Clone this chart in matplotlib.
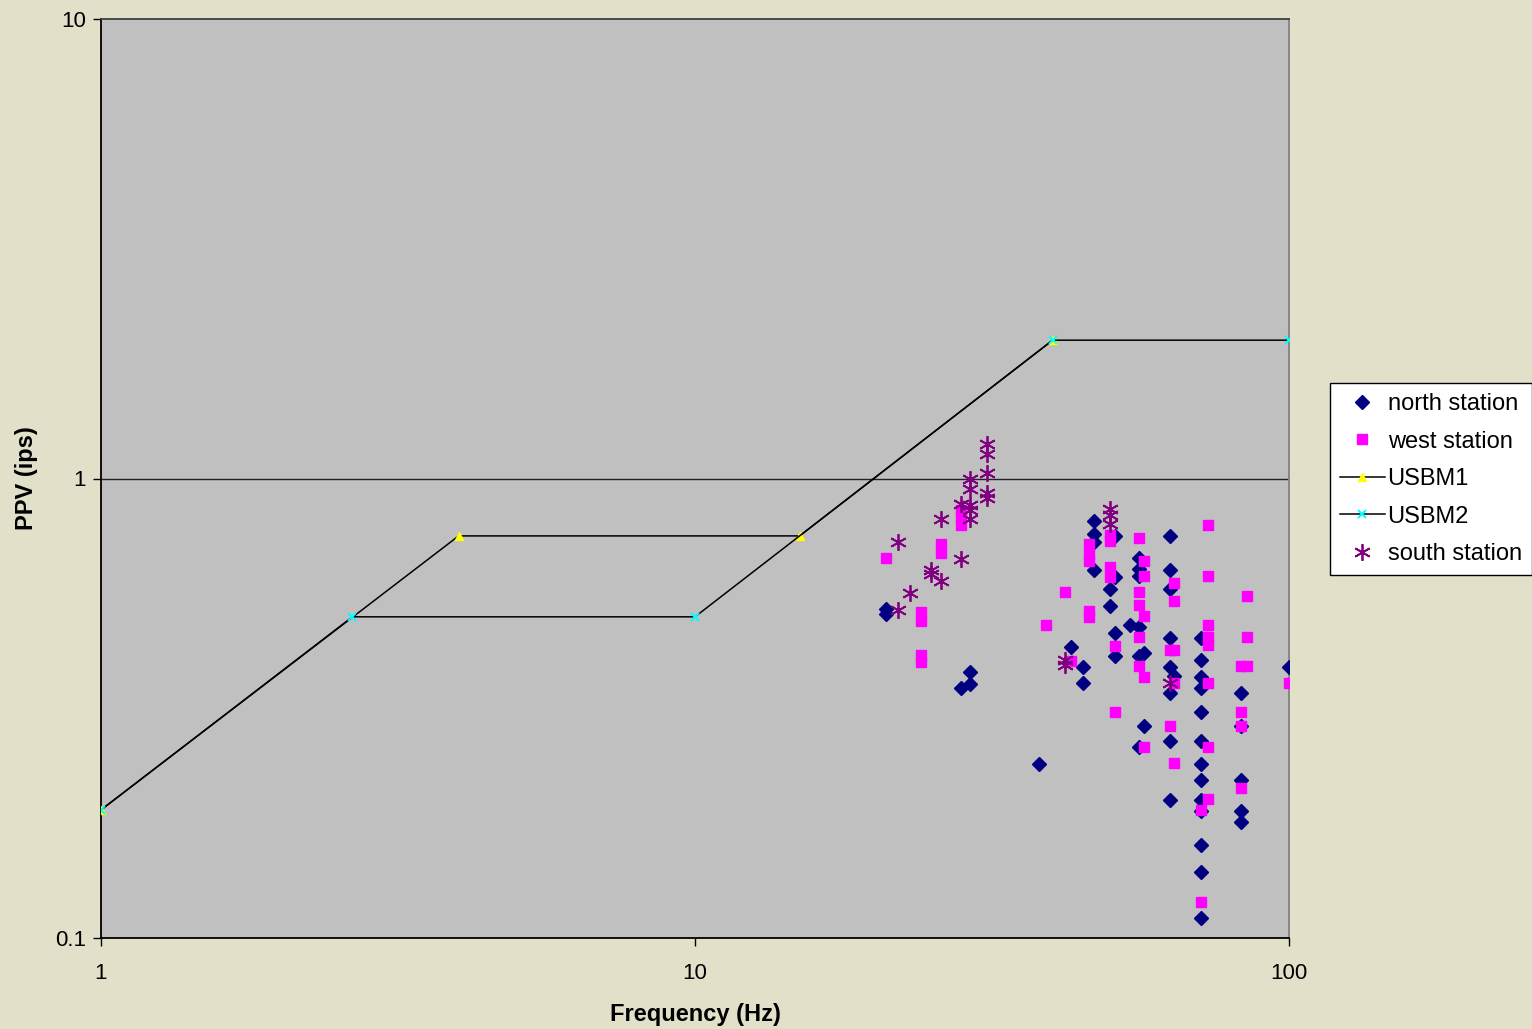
import matplotlib
matplotlib.use("Agg")
import matplotlib.pyplot as plt
from matplotlib.ticker import FixedLocator, FixedFormatter, NullLocator

plt.rcParams['font.family'] = ['Liberation Sans', 'DejaVu Sans']

# Peak particle velocity (ips) versus dominant frequency (Hz)
north_freq = [21, 21, 28, 29, 29, 38, 43, 45, 45, 47, 47, 47, 47, 51, 51, 50, 50,
              54, 56, 51, 51, 57, 56, 56, 56, 56, 57, 56, 63, 63, 63, 63, 63, 64,
              63, 63, 63, 71, 71, 71, 71, 71, 71, 71, 71, 71, 71, 71, 71, 71,
              83, 83, 83, 83, 83, 100]
north_ppv = [0.519, 0.506, 0.350, 0.357, 0.379, 0.239, 0.429, 0.388, 0.358, 0.810,
             0.756, 0.726, 0.631, 0.748, 0.609, 0.574, 0.527, 0.479, 0.474, 0.460,
             0.410, 0.418, 0.410, 0.670, 0.634, 0.612, 0.289, 0.260, 0.748, 0.631,
             0.574, 0.449, 0.388, 0.371, 0.341, 0.268, 0.200, 0.449, 0.402, 0.369,
             0.350, 0.310, 0.268, 0.239, 0.221, 0.200, 0.189, 0.159, 0.139, 0.1105,
             0.341, 0.289, 0.221, 0.189, 0.179, 0.388]

west_freq = [21, 24, 24, 24, 24, 26, 26, 28, 28, 28, 39, 42, 43, 46, 46, 46, 46, 46,
             50, 50, 50, 50, 51, 51, 56, 57, 57, 56, 56, 57, 56, 56, 57, 57, 63, 64,
             64, 64, 63, 64, 64, 73, 73, 73, 73, 73, 73, 73, 73, 71, 71, 85, 85, 83,
             85, 83, 83, 83, 100]
west_ppv = [0.670, 0.511, 0.489, 0.412, 0.398, 0.722, 0.690, 0.852, 0.823, 0.794,
            0.479, 0.565, 0.400, 0.719, 0.684, 0.660, 0.514, 0.499, 0.752, 0.730,
            0.641, 0.609, 0.431, 0.311, 0.744, 0.663, 0.612, 0.565, 0.530, 0.501,
            0.451, 0.390, 0.369, 0.260, 0.423, 0.423, 0.591, 0.540, 0.290, 0.240,
            0.359, 0.794, 0.612, 0.479, 0.451, 0.434, 0.359, 0.260, 0.2005, 0.190,
            0.120, 0.554, 0.451, 0.390, 0.390, 0.311, 0.290, 0.212, 0.358]

south_freq = [22, 22, 23, 25, 25, 26, 26, 28, 28, 29, 29, 29, 29, 29, 31, 31, 31, 31,
              31, 50, 50, 50, 42, 42, 63]
south_ppv = [0.727, 0.518, 0.562, 0.631, 0.621, 0.815, 0.598, 0.882, 0.667, 1.0,
             0.951, 0.874, 0.852, 0.815, 1.19, 1.13, 1.03, 0.928, 0.909, 0.860,
             0.831, 0.798, 0.402, 0.392, 0.359]

# USBM RI 8507 alternative blasting criteria
usbm1_freq = [1, 4, 15, 40]
usbm1_ppv = [0.19, 0.75, 0.75, 2.0]
usbm2_freq = [1, 2.65, 10, 40, 100]
usbm2_ppv = [0.19, 0.5, 0.5, 2.0, 2.0]

x_ticks = [1, 10, 100]
x_labels = ['1', '10', '100']
y_ticks = [0.1, 1, 10]
y_labels = ['0.1', '1', '10']

fig = plt.figure(figsize=(15.32, 10.29), dpi=100)
fig.patch.set_facecolor('#E3E0CA')
ax = fig.add_axes([101 / 1532, 91 / 1029, 1188 / 1532, 919 / 1029])
ax.set_facecolor('#C0C0C0')
ax.set_xscale('log')
ax.set_yscale('log')
ax.set_xlim(1, 100)
ax.set_ylim(0.1, 10)

ax.axhline(1, color='#222222', lw=1.0, zorder=1)

ax.plot(north_freq, north_ppv, linestyle='none', marker='D', markersize=7,
        color='#000080', markeredgecolor='#000080', label='north station', zorder=3)
ax.plot(west_freq, west_ppv, linestyle='none', marker='s', markersize=7.5,
        color='#FF00FF', markeredgecolor='#FF00FF', label='west station', zorder=3)
ax.plot(usbm1_freq, usbm1_ppv, color='black', lw=1.1, marker='^', markersize=6,
        markerfacecolor='#FFFF00', markeredgecolor='#FFFF00', label='USBM1', zorder=3)
ax.plot(usbm2_freq, usbm2_ppv, color='black', lw=1.1, marker='x', markersize=6,
        markeredgewidth=1.4, markeredgecolor='#00FFFF', label='USBM2', zorder=3)
ax.plot(south_freq, south_ppv, linestyle='none', marker=(6, 2, 0), markersize=12,
        markeredgewidth=1.3, color='#800080', markeredgecolor='#800080',
        label='south station', zorder=4)

ax.xaxis.set_major_locator(FixedLocator(x_ticks))
ax.xaxis.set_major_formatter(FixedFormatter(x_labels))
ax.xaxis.set_minor_locator(NullLocator())
ax.yaxis.set_major_locator(FixedLocator(y_ticks))
ax.yaxis.set_major_formatter(FixedFormatter(y_labels))
ax.yaxis.set_minor_locator(NullLocator())
ax.tick_params(axis='both', direction='out', length=6, width=1, labelsize=16,
               colors='black')
ax.tick_params(axis='y', pad=5)
ax.tick_params(axis='x', pad=12)

for side in ('left', 'bottom'):
    ax.spines[side].set_color('black')
    ax.spines[side].set_linewidth(1.3)
ax.spines['top'].set_color('#404040')
ax.spines['top'].set_linewidth(1.3)
ax.spines['right'].set_color('#808080')
ax.spines['right'].set_linewidth(1.3)

ax.set_xlabel('Frequency (Hz)', fontsize=17, fontweight='bold', labelpad=14)
ax.set_ylabel('PPV (ips)', fontsize=17, fontweight='bold', labelpad=12)

leg = fig.legend(loc='upper left', bbox_to_anchor=(1330 / 1532, 1 - 383 / 1029),
                 fontsize=17, frameon=True, fancybox=False, edgecolor='black',
                 framealpha=1, facecolor='white', borderpad=0.42,
                 labelspacing=0.66, handlelength=1.9, handletextpad=0.12,
                 borderaxespad=0)
leg.get_frame().set_linewidth(1.0)

fig.savefig('out.png', dpi=100, facecolor=fig.get_facecolor())
